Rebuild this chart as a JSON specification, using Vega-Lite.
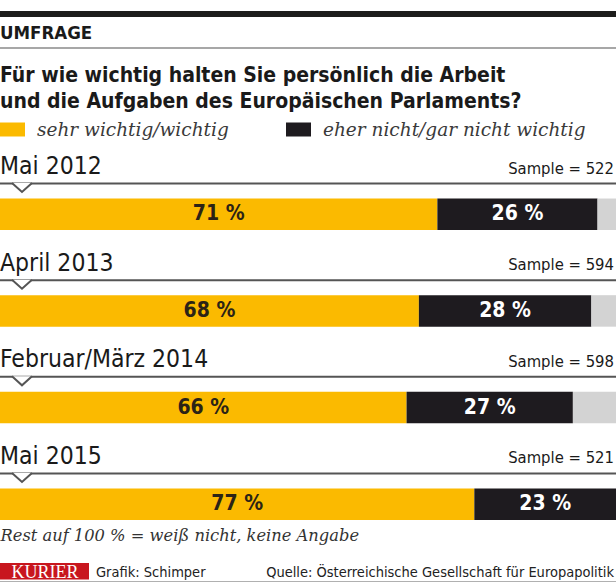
{
  "$schema": "https://vega.github.io/schema/vega-lite/v6.json",
  "width": 616,
  "height": 370,
  "autosize": {"type": "none"},
  "padding": {"top": 150, "bottom": 62, "left": 0, "right": 0},
  "background": "white",
  "config": {
    "view": {"stroke": null},
    "font": "DejaVu Sans Condensed, sans-serif"
  },
  "datasets": {
    "survey": [
      {"period": "Mai 2012", "sample": "Sample = 522", "cat": "sehr wichtig/wichtig", "ord": 1, "pct": 71, "label": "71 %"},
      {"period": "Mai 2012", "sample": "Sample = 522", "cat": "eher nicht/gar nicht wichtig", "ord": 2, "pct": 26, "label": "26 %"},
      {"period": "Mai 2012", "sample": "Sample = 522", "cat": "weiß nicht, keine Angabe", "ord": 3, "pct": 3, "label": ""},
      {"period": "April 2013", "sample": "Sample = 594", "cat": "sehr wichtig/wichtig", "ord": 1, "pct": 68, "label": "68 %"},
      {"period": "April 2013", "sample": "Sample = 594", "cat": "eher nicht/gar nicht wichtig", "ord": 2, "pct": 28, "label": "28 %"},
      {"period": "April 2013", "sample": "Sample = 594", "cat": "weiß nicht, keine Angabe", "ord": 3, "pct": 4, "label": ""},
      {"period": "Februar/März 2014", "sample": "Sample = 598", "cat": "sehr wichtig/wichtig", "ord": 1, "pct": 66, "label": "66 %"},
      {"period": "Februar/März 2014", "sample": "Sample = 598", "cat": "eher nicht/gar nicht wichtig", "ord": 2, "pct": 27, "label": "27 %"},
      {"period": "Februar/März 2014", "sample": "Sample = 598", "cat": "weiß nicht, keine Angabe", "ord": 3, "pct": 7, "label": ""},
      {"period": "Mai 2015", "sample": "Sample = 521", "cat": "sehr wichtig/wichtig", "ord": 1, "pct": 77, "label": "77 %"},
      {"period": "Mai 2015", "sample": "Sample = 521", "cat": "eher nicht/gar nicht wichtig", "ord": 2, "pct": 23, "label": "23 %"},
      {"period": "Mai 2015", "sample": "Sample = 521", "cat": "weiß nicht, keine Angabe", "ord": 3, "pct": 0, "label": ""}
    ],
    "texts": [
      {"role": "kicker", "text": "UMFRAGE"},
      {"role": "title1", "text": "Für wie wichtig halten Sie persönlich die Arbeit"},
      {"role": "title2", "text": "und die Aufgaben des Europäischen Parlaments?"}
    ]
  },
  "layer": [
    {
      "data": {"name": "survey"},
      "mark": {"type": "bar"},
      "encoding": {
        "y": {
          "field": "period", "type": "nominal", "sort": null,
          "scale": {"domain": ["Mai 2012", "April 2013", "Februar/März 2014", "Mai 2015"], "paddingInner": 0.674, "paddingOuter": 0.251, "align": 1},
          "axis": null
        },
        "x": {
          "field": "pct", "type": "quantitative", "stack": "zero",
          "scale": {"domain": [0, 100], "nice": false, "zero": true},
          "axis": {
            "orient": "bottom", "domain": false, "ticks": false, "labels": false, "grid": false,
            "title": "Rest auf 100 % = weiß nicht, keine Angabe",
            "titleAnchor": "start", "titleAlign": "left",
            "titleFont": "DejaVu Serif", "titleFontStyle": "italic", "titleFontWeight": "normal",
            "titleFontSize": 16.3, "titleColor": "#333333", "titlePadding": 7
          }
        },
        "color": {
          "field": "cat", "type": "nominal",
          "scale": {"domain": ["sehr wichtig/wichtig", "eher nicht/gar nicht wichtig", "weiß nicht, keine Angabe"], "range": ["#FBBA00", "#1E1B1F", "#D3D3D3"]},
          "legend": {
            "orient": "top", "direction": "horizontal", "title": null,
            "values": ["sehr wichtig/wichtig", "eher nicht/gar nicht wichtig"],
            "symbolType": "M-1,-0.56L1,-0.56L1,0.56L-1,0.56Z", "symbolSize": 625, "symbolStrokeWidth": 0, "symbolOpacity": 1,
            "labelFont": "DejaVu Serif", "labelFontStyle": "italic", "labelFontSize": 18.5, "labelColor": "#3a3a3a",
            "labelOffset": 12, "columnPadding": 57, "offset": 11, "labelLimit": 400
          }
        },
        "order": {"field": "ord", "type": "quantitative"}
      }
    },
    {
      "data": {"name": "survey"},
      "mark": {"type": "text", "fontWeight": "bold", "fontSize": 21, "baseline": "middle"},
      "encoding": {
        "y": {"field": "period", "type": "nominal", "sort": null},
        "x": {"field": "pct", "type": "quantitative", "stack": "zero", "bandPosition": 0.5},
        "detail": {"field": "cat"},
        "order": {"field": "ord", "type": "quantitative"},
        "text": {"field": "label"},
        "color": {"condition": {"test": "datum.ord === 1", "value": "#2b2316"}, "value": "#ffffff"}
      }
    },
    {
      "data": {"name": "survey"},
      "transform": [{"filter": "datum.ord === 1"}],
      "mark": {"type": "rule", "color": "#555555", "strokeWidth": 2, "yOffset": -15},
      "encoding": {
        "y": {"field": "period", "type": "nominal", "sort": null, "bandPosition": 0},
        "x": {"datum": 0, "type": "quantitative"},
        "x2": {"datum": 100}
      }
    },
    {
      "data": {"name": "survey"},
      "transform": [{"filter": "datum.ord === 1"}],
      "mark": {"type": "point", "shape": "M-1,-0.45L0,0.45L1,-0.45", "size": 400, "filled": true, "fill": "#ffffff", "stroke": "#555555", "strokeWidth": 2, "opacity": 1, "yOffset": -11},
      "encoding": {
        "y": {"field": "period", "type": "nominal", "sort": null, "bandPosition": 0},
        "x": {"datum": 3.57, "type": "quantitative"}
      }
    },
    {
      "data": {"name": "survey"},
      "transform": [{"filter": "datum.ord === 1"}],
      "mark": {"type": "text", "align": "left", "baseline": "alphabetic", "fontSize": 24.5, "color": "#1a1a1a", "dy": -24.5},
      "encoding": {
        "y": {"field": "period", "type": "nominal", "sort": null, "bandPosition": 0},
        "x": {"datum": 0, "type": "quantitative"},
        "text": {"field": "period"}
      }
    },
    {
      "data": {"name": "survey"},
      "transform": [{"filter": "datum.ord === 1"}],
      "mark": {"type": "text", "align": "right", "baseline": "alphabetic", "fontSize": 16.5, "color": "#1a1a1a", "dy": -25, "dx": -2},
      "encoding": {
        "y": {"field": "period", "type": "nominal", "sort": null, "bandPosition": 0},
        "x": {"datum": 100, "type": "quantitative"},
        "text": {"field": "sample"}
      }
    },
    {
      "data": {"values": [{}]},
      "mark": {"type": "rect", "color": "#1d1d1b"},
      "encoding": {"x": {"value": 0}, "x2": {"value": 616}, "y": {"value": -139}, "y2": {"value": -133}}
    },
    {
      "data": {"name": "texts"},
      "transform": [{"filter": "datum.role === 'kicker'"}],
      "mark": {"type": "text", "align": "left", "baseline": "alphabetic", "fontSize": 18.5, "fontWeight": "bold", "color": "#1a1a1a"},
      "encoding": {"x": {"value": 0}, "y": {"value": -111}, "text": {"field": "text"}}
    },
    {
      "data": {"values": [{}]},
      "mark": {"type": "rule", "color": "#8a8a8a", "strokeWidth": 1.5},
      "encoding": {"x": {"value": 0}, "x2": {"value": 616}, "y": {"value": -102}}
    },
    {
      "data": {"name": "texts"},
      "transform": [{"filter": "datum.role === 'title1'"}],
      "mark": {"type": "text", "align": "left", "baseline": "alphabetic", "fontSize": 21, "fontWeight": "bold", "color": "#1a1a1a"},
      "encoding": {"x": {"value": 0}, "y": {"value": -68}, "text": {"field": "text"}}
    },
    {
      "data": {"name": "texts"},
      "transform": [{"filter": "datum.role === 'title2'"}],
      "mark": {"type": "text", "align": "left", "baseline": "alphabetic", "fontSize": 21, "fontWeight": "bold", "color": "#1a1a1a"},
      "encoding": {"x": {"value": 0}, "y": {"value": -42}, "text": {"field": "text"}}
    },
    {
      "data": {"values": [{}]},
      "mark": {"type": "rect", "color": "#C8161E"},
      "encoding": {"x": {"value": 0}, "x2": {"value": 89}, "y": {"value": 413}, "y2": {"value": 429.5}}
    },
    {
      "data": {"values": [{}]},
      "mark": {"type": "text", "align": "center", "baseline": "alphabetic", "font": "Liberation Serif", "fontSize": 18, "color": "#ffffff"},
      "encoding": {"x": {"value": 45}, "y": {"value": 427.5}, "text": {"value": "KURIER"}}
    },
    {
      "data": {"values": [{}]},
      "mark": {"type": "text", "align": "left", "baseline": "alphabetic", "fontSize": 14.5, "color": "#222222"},
      "encoding": {"x": {"value": 96}, "y": {"value": 427}, "text": {"value": "Grafik: Schimper"}}
    },
    {
      "data": {"values": [{}]},
      "mark": {"type": "text", "align": "right", "baseline": "alphabetic", "fontSize": 14.5, "color": "#222222"},
      "encoding": {"x": {"value": 614}, "y": {"value": 427}, "text": {"value": "Quelle: Österreichische Gesellschaft für Europapolitik"}}
    },
    {
      "data": {"values": [{}]},
      "mark": {"type": "rule", "color": "#b0b0b0", "strokeWidth": 1},
      "encoding": {"x": {"value": 0}, "x2": {"value": 616}, "y": {"value": 431.5}}
    }
  ]
}
